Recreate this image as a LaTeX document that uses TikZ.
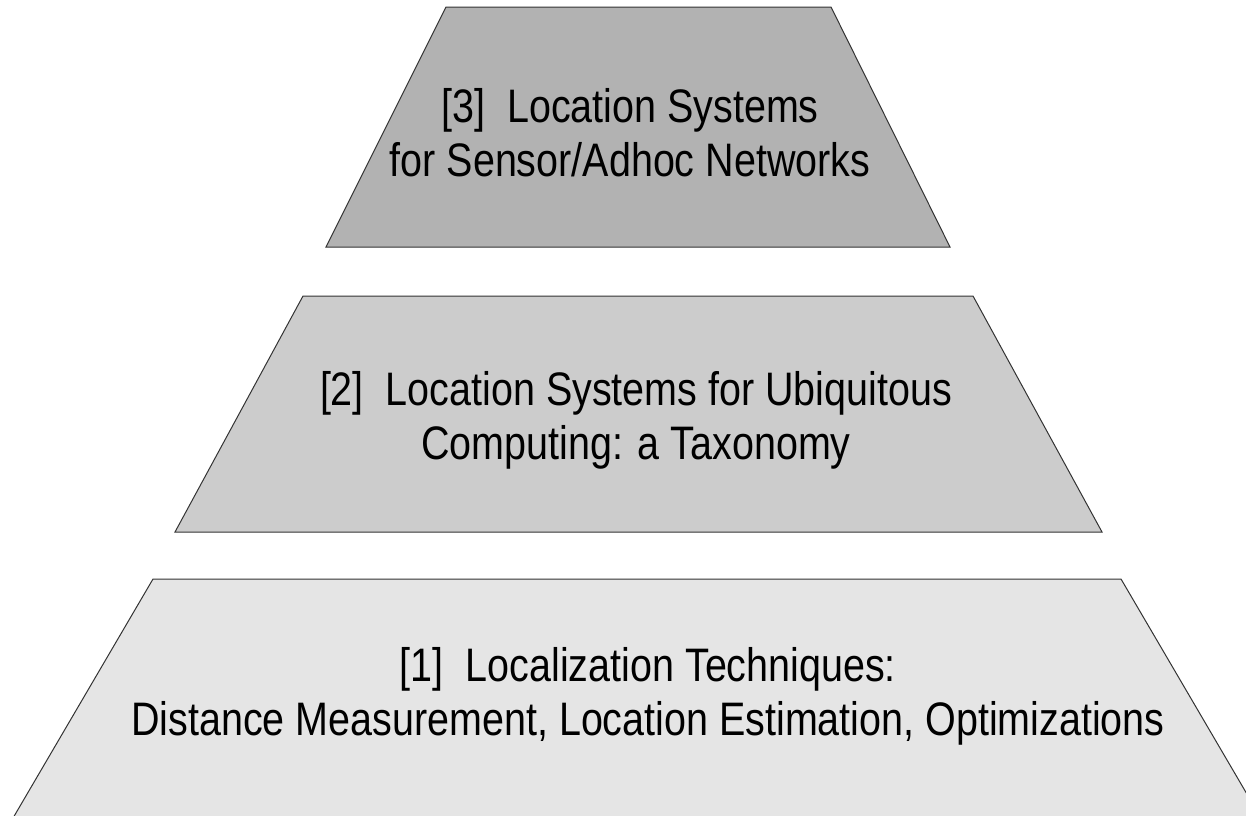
\documentclass[tikz,border=0pt]{standalone}
\usepackage{fontspec}
\setmainfont[FakeStretch=0.84]{Liberation Sans}
\usepackage{tikz}

\tikzset{
  level/.style={draw=black!80, line width=1pt, line join=miter},
  label/.style={align=center, font=\fontsize{47}{54}\selectfont}
}

\begin{document}
\begin{tikzpicture}[x=1pt, y=-1pt]
		\useasboundingbox (0,0) rectangle (1246,815);
		\clip (0,0) rectangle (1246,815);

				% layers, bottom first
				\filldraw [level, fill=black!10] (153,579) -- (1121,579) -- (1268,830) -- (6,830) -- cycle;
				\filldraw [level, fill=black!20] (303,296) -- (973,296) -- (1102,532) -- (175,532) -- cycle;
				\filldraw [level, fill=black!30] (446,7) -- (831,7) -- (950,247) -- (326,247) -- cycle;

				\node [label] (L3) at (630,133) {[3]~~Location Systems\\for Sensor/Adhoc Networks};
				\node [label] (L2) at (636,420) {[2]~~Location Systems for Ubiquitous\\Computing: a Taxonomy};
				\node [label] (L1) at (648,696) {[1]~~Localization Techniques:\\Distance Measurement, Location Estimation, Optimizations};

		\end{tikzpicture}
\end{document}
